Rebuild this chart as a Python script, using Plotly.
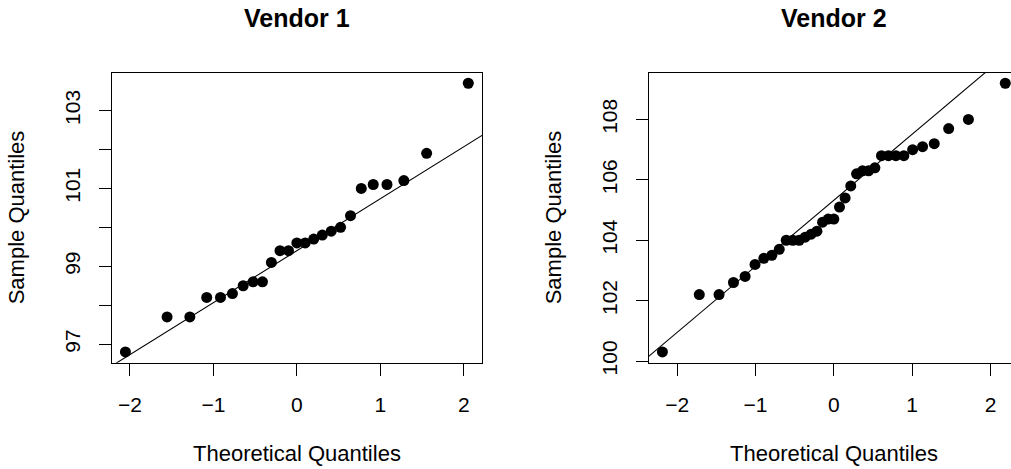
import numpy as np
import plotly.graph_objects as go

W, H = 1011, 469
FONT = "Liberation Sans, Arial, Helvetica, sans-serif"

# Vendor 1: theoretical normal quantiles and sorted sample values (n = 25)
v1_theoretical = [-2.054, -1.555, -1.282, -1.080, -0.915, -0.772, -0.643, -0.524,
                  -0.412, -0.305, -0.202, -0.100, 0.000, 0.100, 0.202, 0.305,
                  0.412, 0.524, 0.643, 0.772, 0.915, 1.080, 1.282, 1.555, 2.054]
v1_sample = [96.8, 97.7, 97.7, 98.2, 98.2, 98.3, 98.5, 98.6, 98.6, 99.1,
             99.4, 99.4, 99.6, 99.6, 99.7, 99.8, 99.9, 100.0, 100.3, 101.0,
             101.1, 101.1, 101.2, 101.9, 103.7]

# Vendor 2: theoretical normal quantiles and sorted sample values (n = 35)
v2_theoretical = [-2.189, -1.718, -1.466, -1.282, -1.133, -1.006, -0.894, -0.792,
                  -0.697, -0.608, -0.524, -0.443, -0.366, -0.290, -0.216, -0.144,
                  -0.072, 0.000, 0.072, 0.144, 0.216, 0.290, 0.366, 0.443,
                  0.524, 0.608, 0.697, 0.792, 0.894, 1.006, 1.133, 1.282,
                  1.466, 1.718, 2.189]
v2_sample = [100.3, 102.2, 102.2, 102.6, 102.8, 103.2, 103.4, 103.5, 103.7, 104.0,
             104.0, 104.0, 104.1, 104.2, 104.3, 104.6, 104.7, 104.7, 105.1, 105.4,
             105.8, 106.2, 106.3, 106.3, 106.4, 106.8, 106.8, 106.8, 106.8, 107.0,
             107.1, 107.2, 107.7, 108.0, 109.2]

titles = ["Vendor 1", "Vendor 2"]
x_ticks = [-2, -1, 0, 1, 2]
v1_y_ticks = [97, 98, 99, 100, 101, 102, 103]
v1_y_labels = ["97", "", "99", "", "101", "", "103"]
v2_y_ticks = [100, 102, 104, 106, 108]
v2_y_labels = ["100", "102", "104", "106", "108"]


def padded(vals, frac=0.04):
    lo, hi = min(vals), max(vals)
    d = (hi - lo) * frac
    return lo - d, hi + d


def qqline(x, y):
    # line through the first and third quartiles, as R's qqline does
    q1, q3 = np.quantile(y, [0.25, 0.75])
    z = 0.6744897501960817
    slope = (q3 - q1) / (2 * z)
    return slope, (q1 + q3) / 2


# plot-region geometry in pixels
px_left = [111.7, 648.7]
px_width = 370.3
px_top, px_bottom = 72.5, 362.7
ydom = [(H - px_bottom) / H, (H - px_top) / H]

fig = go.Figure()

panels = [
    (v1_theoretical, v1_sample, v1_y_ticks, v1_y_labels),
    (v2_theoretical, v2_sample, v2_y_ticks, v2_y_labels),
]

for k, (tx, sy, yt, yl) in enumerate(panels):
    xa = "x" if k == 0 else "x2"
    ya = "y" if k == 0 else "y2"
    xlo, xhi = padded(tx)
    ylo, yhi = padded(sy)
    left = px_left[k]
    right = min(left + px_width, W)
    # the right panel runs past the edge of the page
    vis_hi = xlo + (xhi - xlo) * (right - left) / px_width
    slope, icpt = qqline(tx, sy)

    fig.add_trace(go.Scatter(
        x=[xlo, xhi], y=[icpt + slope * xlo, icpt + slope * xhi],
        mode="lines", line=dict(color="black", width=1.1),
        xaxis=xa, yaxis=ya, hoverinfo="skip", showlegend=False))
    fig.add_trace(go.Scatter(
        x=tx, y=sy, mode="markers",
        marker=dict(color="black", size=11, line=dict(width=0)),
        xaxis=xa, yaxis=ya, showlegend=False, cliponaxis=False))

    axis_common = dict(showgrid=False, zeroline=False, showline=True,
                       linecolor="black", linewidth=1.1, ticks="outside",
                       ticklen=12, tickwidth=1.1, tickcolor="black",
                       automargin=False,
                       tickfont=dict(family=FONT, size=21, color="black"))
    xkey = "xaxis" if k == 0 else "xaxis2"
    ykey = "yaxis" if k == 0 else "yaxis2"
    fig.update_layout({
        xkey: dict(axis_common, domain=[left / W, right / W],
                   range=[xlo, vis_hi], tickvals=x_ticks,
                   ticktext=[("\u2212" if v < 0 else "") + str(abs(v)) for v in x_ticks],
                   mirror=True, anchor=ya, ticklabelstandoff=11),
        ykey: dict(axis_common, domain=ydom, range=[ylo, yhi],
                   tickvals=yt, ticktext=yl, tickangle=-90,
                   mirror=(k == 0), anchor=xa, ticklabelstandoff=10),
    })

    cx = (left + (left + px_width)) / 2 / W
    fig.add_annotation(text="<b>" + titles[k] + "</b>", x=cx, xref="paper",
                       y=(H - 17.5) / H, yref="paper", showarrow=False,
                       xanchor="center", yanchor="middle",
                       font=dict(family=FONT, size=25, color="black"))
    fig.add_annotation(text="Theoretical Quantiles", x=cx, xref="paper",
                       y=(H - 453.5) / H, yref="paper", showarrow=False,
                       xanchor="center", yanchor="middle",
                       font=dict(family=FONT, size=22, color="black"))
    fig.add_annotation(text="Sample Quantiles", x=(left - 95) / W, xref="paper",
                       y=(ydom[0] + ydom[1]) / 2, yref="paper", showarrow=False,
                       textangle=-90, xanchor="center", yanchor="middle",
                       font=dict(family=FONT, size=22, color="black"))

fig.update_layout(width=W, height=H, margin=dict(l=0, r=0, t=0, b=0),
                  paper_bgcolor="white", plot_bgcolor="white",
                  font=dict(family=FONT, color="black"))

fig.write_html("out.html")
